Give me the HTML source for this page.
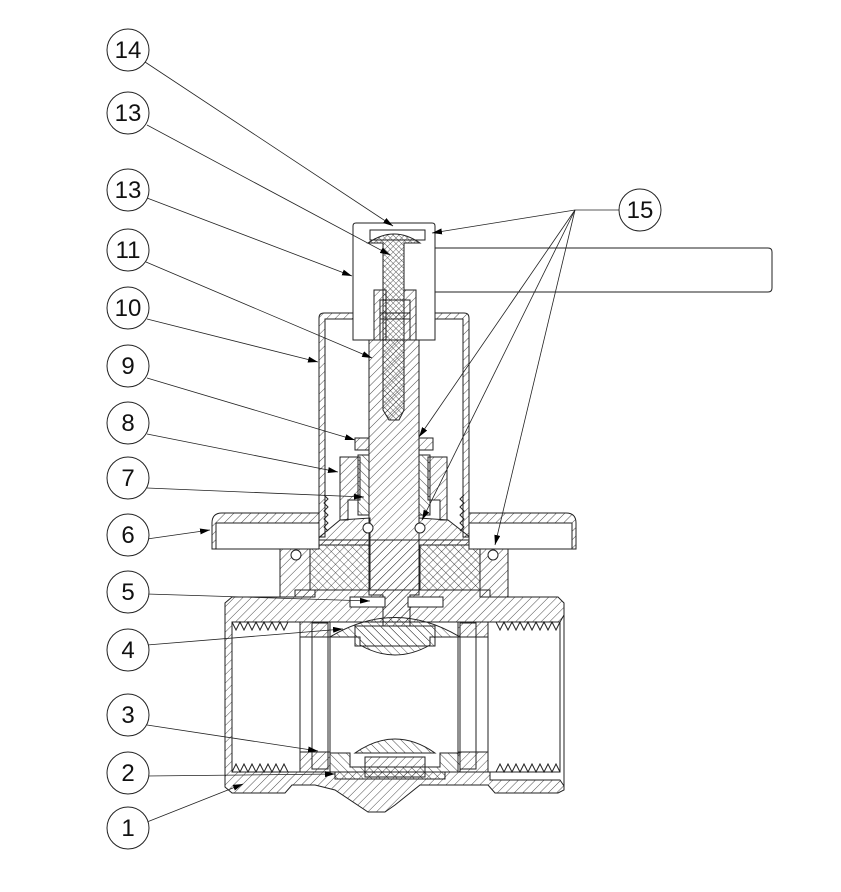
<!DOCTYPE html>
<html><head><meta charset="utf-8"><style>
html,body{margin:0;padding:0;background:#fff;}
svg{display:block}
text{font-family:"Liberation Sans",sans-serif;font-size:24px;fill:#111;text-anchor:middle;}
</style></head><body>
<svg width="841" height="892" viewBox="0 0 841 892" xmlns="http://www.w3.org/2000/svg">
<defs>
<pattern id="h" width="6" height="6" patternUnits="userSpaceOnUse" patternTransform="rotate(45)"><line x1="0" y1="0" x2="0" y2="6" stroke="#222" stroke-width="0.8"/></pattern>
<pattern id="h2" width="6" height="6" patternUnits="userSpaceOnUse" patternTransform="rotate(-45)"><line x1="0" y1="0" x2="0" y2="6" stroke="#222" stroke-width="0.8"/></pattern>
<pattern id="x" width="4" height="4" patternUnits="userSpaceOnUse" patternTransform="rotate(45)"><path d="M0 0V4M0 0H4" stroke="#222" stroke-width="0.7"/></pattern>
<marker id="a" markerWidth="10" markerHeight="6" refX="10" refY="3" orient="auto" markerUnits="userSpaceOnUse"><path d="M0 0L10 3L0 6Z" fill="#000"/></marker>
</defs>
<g stroke="#222" stroke-width="1" fill="none">
<!-- body -->
<path d="M232 597H295V590H490V597H558L564 603V615L560 622H490V635H460V770H490V780H560L564 786V790L558 793H495L488 785H420L395 805L385 812H368L335 790L315 785H292L285 793H232L225 787V603Z" fill="url(#h)"/>
<rect x="232" y="622" width="328" height="150" fill="#fff"/>
<path d="M232 622L236 630L240 622L244 630L248 622L252 630L256 622L260 630L264 622L268 630L272 622L276 630L280 622L284 630L288 622M496 622L500 630L504 622L508 630L512 622L516 630L520 622L524 630L528 622L532 630L536 622L540 630L544 622L548 630L552 622L556 630L560 622"/>
<path d="M232 772L236 764L240 772L244 764L248 772L252 764L256 772L260 764L264 772L268 764L272 772L276 764L280 772L284 764L288 772M496 772L500 764L504 772L508 764L512 772L516 764L520 772L524 764L528 772L532 764L536 772L540 764L544 772L548 764L552 772L556 764L560 772"/>
<line x1="225" y1="603" x2="225" y2="787"/><line x1="564" y1="603" x2="564" y2="787"/>
<!-- seats -->
<rect x="300" y="622" width="30" height="150" fill="#fff"/>
<rect x="312" y="623" width="16" height="146"/>
<rect x="458" y="622" width="30" height="150" fill="#fff"/>
<rect x="460" y="623" width="16" height="146"/>
<rect x="300" y="622" width="30" height="15" fill="url(#h)"/><rect x="458" y="622" width="30" height="15" fill="url(#h)"/>
<rect x="300" y="752" width="30" height="20" fill="url(#h)"/><rect x="458" y="752" width="30" height="20" fill="url(#h)"/>
<!-- ball -->
<path d="M330 637Q395 598 460 637H430V645Q395 665 360 645V637Z" fill="url(#h2)"/>
<rect x="355" y="626" width="80" height="20" fill="url(#h2)"/>
<path d="M355 753Q395 725 435 753Z" fill="url(#h2)"/>
<path d="M330 753H350V767H440V753H460V772H445V779H335V772H330Z" fill="url(#h2)"/>
<rect x="365" y="757" width="60" height="20" fill="url(#h)"/>
<!-- stem -->
<path d="M369 340H419V595H410V626H383V595H369Z" fill="url(#h)"/>
<rect x="350" y="597" width="35" height="10" fill="#fff"/><rect x="408" y="597" width="35" height="10" fill="#fff"/>
<!-- bonnet -->
<path d="M280 540H508V597H480V590H315V597H280Z" fill="url(#h)"/>
<rect x="310" y="545" width="60" height="45" fill="url(#h2)"/>
<rect x="420" y="545" width="60" height="45" fill="url(#h2)"/>
<path d="M340 520L370 518V545H310Z" fill="url(#h)"/><path d="M448 520L419 518V545H480Z" fill="url(#h)"/>
<circle cx="296" cy="555" r="5" fill="#fff"/><circle cx="493" cy="555" r="5" fill="#fff"/>
<circle cx="368" cy="528" r="5" fill="#fff"/><circle cx="420" cy="528" r="5" fill="#fff"/>
<!-- disc 6 -->
<path d="M212 549V523Q212 513 222 513H319V549Z" fill="url(#h)"/>
<rect x="216" y="523" width="103" height="26" fill="#fff"/>
<path d="M469 513H566Q576 513 576 523V549H469Z" fill="url(#h)"/>
<rect x="469" y="523" width="103" height="26" fill="#fff"/>
<!-- cover 10 -->
<path d="M319 537V318Q319 313 324 313H464Q469 313 469 318V537H463V319H325V537Z" fill="url(#h)"/>
<!-- threads on bonnet -->
<path d="M324 495l4 4l-4 4l4 4l-4 4l4 4l-4 4l4 4l-4 4l4 4M464 495l-4 4l4 4l-4 4l4 4l-4 4l4 4l-4 4l4 4l-4 4"/>
<!-- packing nut 8 -->
<path d="M340 457H360V500H348V520H340Z" fill="url(#h)"/>
<path d="M428 457H447V520H440V500H428Z" fill="url(#h)"/>
<rect x="358" y="455" width="11" height="60" fill="url(#h2)"/><rect x="419" y="455" width="11" height="60" fill="url(#h2)"/>
<!-- nut 9 -->
<rect x="355" y="438" width="14" height="12" fill="url(#h)"/><rect x="419" y="438" width="14" height="12" fill="url(#h)"/>
<!-- handle -->
<path d="M353 226Q353 223 356 223H432Q435 223 435 226V340H410V300H380V340H353Z" fill="#fff"/>
<path d="M435 248H768Q772 248 772 252V288Q772 292 768 292H435"/>
<path d="M370 230H425V240H370Z"/>
<rect x="374" y="290" width="12" height="50" fill="url(#h)"/><rect x="404" y="290" width="12" height="50" fill="url(#h)"/>
<!-- screw -->
<path d="M368 243Q394 225 420 243H404V410L399 420H389L383 410V243Z" fill="url(#x)"/>
</g>
<!-- leaders -->
<g stroke="#222" stroke-width="0.8" fill="none" marker-end="url(#a)">
<line x1="145" y1="62" x2="393" y2="226"/>
<line x1="147" y1="125" x2="390" y2="255"/>
<line x1="147" y1="198" x2="352" y2="276"/>
<line x1="146" y1="262" x2="372" y2="358"/>
<line x1="147" y1="319" x2="318" y2="362"/>
<line x1="147" y1="378" x2="355" y2="440"/>
<line x1="147" y1="434" x2="338" y2="472"/>
<line x1="147" y1="488" x2="364" y2="497"/>
<line x1="147" y1="539" x2="210" y2="530"/>
<line x1="147" y1="594" x2="370" y2="601"/>
<line x1="147" y1="645" x2="343" y2="629"/>
<line x1="147" y1="725" x2="318" y2="751"/>
<line x1="147" y1="776" x2="335" y2="774"/>
<line x1="147" y1="822" x2="243" y2="784"/>
<line x1="620" y1="210" x2="575" y2="210" marker-end="none"/>
<line x1="575" y1="210" x2="432" y2="233"/>
<line x1="575" y1="210" x2="419" y2="437"/>
<line x1="575" y1="210" x2="422" y2="520"/>
<line x1="575" y1="210" x2="495" y2="545"/>
</g>
<g stroke="#222" stroke-width="1" fill="#fff">
<circle cx="128" cy="50" r="21"/><circle cx="128" cy="113" r="21"/><circle cx="128" cy="190" r="21"/>
<circle cx="128" cy="250" r="21"/><circle cx="128" cy="308" r="21"/><circle cx="128" cy="366" r="21"/>
<circle cx="128" cy="423" r="21"/><circle cx="128" cy="478" r="21"/><circle cx="128" cy="535" r="21"/>
<circle cx="128" cy="592" r="21"/><circle cx="128" cy="650" r="21"/><circle cx="128" cy="715" r="21"/>
<circle cx="128" cy="773" r="21"/><circle cx="128" cy="828" r="21"/><circle cx="640" cy="210" r="21"/>
</g>
<g>
<text x="128" y="58">14</text><text x="128" y="121">13</text><text x="128" y="198">13</text>
<text x="128" y="258">11</text><text x="128" y="316">10</text><text x="128" y="374">9</text>
<text x="128" y="431">8</text><text x="128" y="486">7</text><text x="128" y="543">6</text>
<text x="128" y="600">5</text><text x="128" y="658">4</text><text x="128" y="723">3</text>
<text x="128" y="781">2</text><text x="128" y="836">1</text><text x="640" y="218">15</text>
</g>
</svg>
</body></html>
